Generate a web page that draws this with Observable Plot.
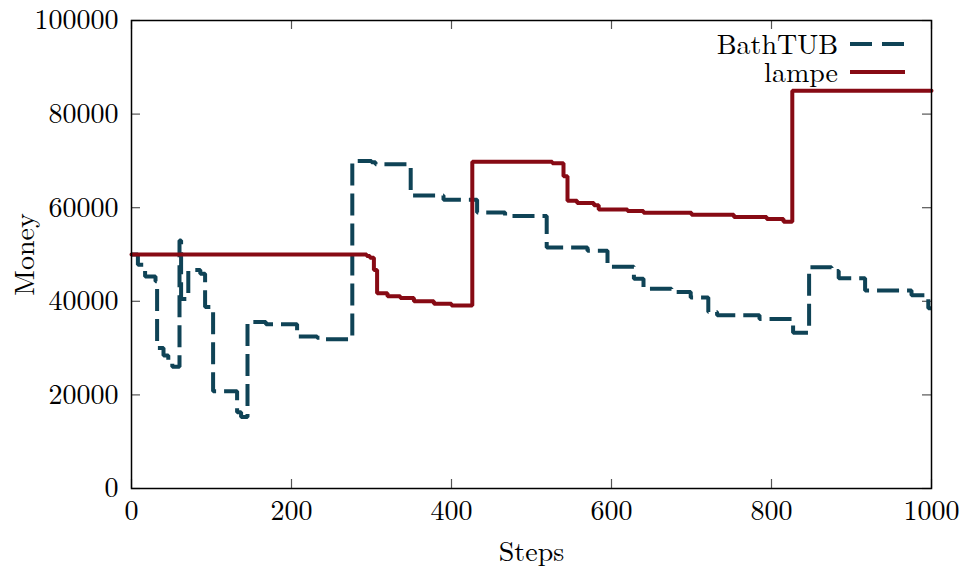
<!DOCTYPE html>
<html>
<head>
<meta charset="utf-8">
<script src="https://cdn.jsdelivr.net/npm/d3@7"></script>
<script src="https://cdn.jsdelivr.net/npm/@observablehq/plot@0.6"></script>
<style>
  html, body { margin: 0; padding: 0; background: #fff; }
  #chart { width: 961px; height: 570px; }
</style>
</head>
<body>
<div id="chart"></div>
<script>
// ---- data ----
const bathSteps = [0, 8, 17, 30, 32, 40, 46, 51, 60, 62, 71, 86, 92, 102, 132, 137, 145, 168, 207, 232, 243, 276, 300, 305, 349, 390, 432, 467, 519, 570, 595, 628, 640, 675, 699, 721, 732, 785, 827, 847, 875, 884, 917, 975, 996, 1000];
const bathMoney = [50000, 47800, 45300, 44300, 30000, 28400, 27300, 26000, 53000, 40500, 46700, 45900, 38800, 20800, 16300, 15300, 35600, 35100, 32500, 32200, 31900, 70000, 69700, 69300, 62600, 61700, 59000, 58200, 51500, 50800, 47400, 44800, 42700, 42000, 40800, 37700, 37000, 36200, 33300, 47300, 46500, 44900, 42300, 41300, 38500, 38500];

const lampeSteps = [0, 294, 298, 303, 307, 320, 336, 353, 378, 400, 426, 526, 540, 545, 557, 578, 584, 620, 640, 700, 753, 794, 815, 826, 1000];
const lampeMoney = [50000, 49700, 49300, 46700, 41700, 41100, 40700, 40000, 39500, 39100, 69800, 69500, 66700, 61500, 61000, 60500, 59600, 59300, 58900, 58500, 58000, 57600, 57000, 85000, 85000];

const xTicks = [0, 200, 400, 600, 800, 1000];
const yTicks = [0, 20000, 40000, 60000, 80000, 100000];
const seriesNames = ["BathTUB", "lampe"];
const seriesColors = ["#0f4356", "#870a14"];

const bath = bathSteps.map((s, i) => ({step: s, money: bathMoney[i]}));
const lampe = lampeSteps.map((s, i) => ({step: s, money: lampeMoney[i]}));

const W = 961, H = 570, mL = 131, mR = 30, mT = 20, mB = 82;
const innerH = H - mT - mB, innerW = W - mL - mR;
const tickLen = 9;
const FONT = "'Latin Modern Roman', 'Liberation Serif', serif";

const chart = Plot.plot({
  width: W, height: H,
  marginLeft: mL, marginRight: mR, marginTop: mT, marginBottom: mB,
  style: {fontFamily: FONT, fontSize: "28px", color: "#000", background: "#fff", overflow: "visible"},
  x: {domain: [0, 1000]},
  y: {domain: [0, 100000]},
  marks: [
    Plot.axisX({ticks: xTicks, tickSize: 0, tickPadding: 12, tickFormat: d => String(d), label: "Steps", labelAnchor: "center", labelOffset: 72, labelArrow: "none"}),
    Plot.axisY({ticks: yTicks, tickSize: 0, tickPadding: 13, tickFormat: d => String(d), label: "Money", labelAnchor: "center", labelOffset: 117, labelArrow: "none"}),
    Plot.ruleX(xTicks, {x: d => d, insetTop: innerH - tickLen, stroke: "#555", strokeWidth: 1.2}),
    Plot.ruleX(xTicks, {x: d => d, insetBottom: innerH - tickLen, stroke: "#555", strokeWidth: 1.2}),
    Plot.ruleY(yTicks, {y: d => d, insetRight: innerW - tickLen, stroke: "#555", strokeWidth: 1.2}),
    Plot.ruleY(yTicks, {y: d => d, insetLeft: innerW - tickLen, stroke: "#555", strokeWidth: 1.2}),
    Plot.line(bath, {x: "step", y: "money", curve: "step-after", stroke: seriesColors[0], strokeWidth: 4, strokeDasharray: "22,8", strokeLinecap: "butt", strokeLinejoin: "miter"}),
    Plot.line(lampe, {x: "step", y: "money", curve: "step-after", stroke: seriesColors[1], strokeWidth: 4, strokeLinejoin: "miter"}),
    Plot.frame({stroke: "#000", strokeWidth: 1.5})
  ]
});

document.getElementById("chart").appendChild(chart);

// legend (inside plot, top right)
const svg = d3.select(chart);
const lg = svg.append("g");
seriesNames.forEach((name, i) => {
  const yy = 44 + i * 28;
  lg.append("text").attr("x", 838).attr("y", yy).attr("dy", "0.35em")
    .attr("text-anchor", "end").attr("fill", "#000").text(name);
  lg.append("line").attr("x1", 850).attr("x2", 905).attr("y1", yy).attr("y2", yy)
    .attr("stroke", seriesColors[i]).attr("stroke-width", 4)
    .attr("stroke-dasharray", i === 0 ? "22,10" : null);
});
svg.selectAll("text").style("font-family", FONT).style("font-size", "28px");
</script>
</body>
</html>
